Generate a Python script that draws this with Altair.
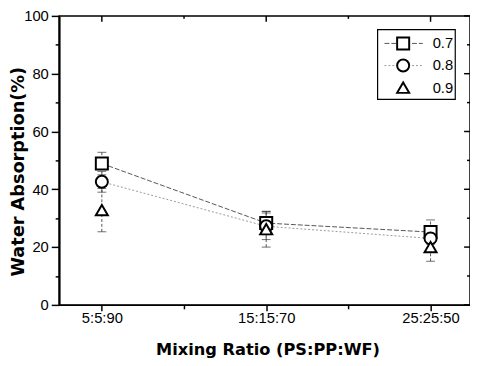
import altair as alt
import pandas as pd

categories = ["5:5:90", "15:15:70", "25:25:50"]
ratios = ["0.7", "0.8", "0.9"]
vals_07 = [48.9, 28.3, 25.2]
err_07 = [3.9, 4.0, 4.2]
vals_08 = [42.6, 27.2, 23.0]
err_08 = [3.6, 4.6, 3.5]
vals_09 = [32.8, 26.2, 20.0]
err_09 = [7.5, 6.2, 4.9]

rows = []
for r, vals, errs in zip(ratios, [vals_07, vals_08, vals_09], [err_07, err_08, err_09]):
    for i, (c, v, e) in enumerate(zip(categories, vals, errs)):
        rows.append({"cat": c, "xpos": i + 1, "ratio": r, "val": v, "lo": v - e, "hi": v + e})
df = pd.DataFrame(rows)
legend_df = pd.DataFrame({"ratio": ratios, "row": list(range(len(ratios)))})

FONT = "Liberation Sans"
TFONT = "DejaVu Sans"
cat_expr = "[" + ",".join("'" + c + "'" for c in categories) + "]"
xlabel_expr = "datum.value % 1 == 0 ? " + cat_expr + "[datum.value - 1] : ''"

W, H = 418, 294
xscale = alt.Scale(domain=[0.74, 3.24], nice=False, zero=False)
yscale = alt.Scale(domain=[0, 100], nice=False)
shape_scale = alt.Scale(domain=ratios, range=["square", "circle", "triangle-up"])
xvals = [1, 1.5, 2, 2.5, 3]
yvals = list(range(0, 101, 10))

xt = pd.DataFrame({"t": xvals, "major": [v % 1 == 0 for v in xvals]})
yt = pd.DataFrame({"t": yvals, "major": [v % 20 == 0 for v in yvals]})

base = alt.Chart(df)

axis_bottom = alt.Axis(
    orient="bottom", values=xvals, labelExpr=xlabel_expr, grid=False,
    tickSize=alt.ExprRef("datum.value % 1 == 0 ? 6 : 4"), tickColor="black", tickWidth=1.5,
    domainColor="black", domainWidth=1.5, labelFont=FONT, labelFontSize=15, labelColor="black",
    labelPadding=0, labelFlush=False, labelOverlap=False,
    title="Mixing Ratio (PS:PP:WF)", titleFont=TFONT, titleFontSize=16.5, titleFontWeight="bold",
    titleColor="black", titleBaseline="middle", titleX=212, titleY=45,
)
axis_left = alt.Axis(
    orient="left", values=yvals, labelExpr="datum.value % 20 == 0 ? datum.value : ''", grid=False,
    tickSize=alt.ExprRef("datum.value % 20 == 0 ? 8 : 4"), tickColor="black", tickWidth=1.5,
    domainColor="black", domainWidth=2, labelFont=FONT, labelFontSize=15, labelColor="black",
    labelPadding=3, labelFlush=False, labelOverlap=False,
    title="Water Absorption(%)", titleFont=TFONT, titleFontSize=18, titleFontWeight="bold",
    titleColor="black", titleBaseline="middle", titleX=-41, titleY=158, titleAngle=270,
)

# inward ticks on the top and right frame edges
top_major = alt.Chart(xt).transform_filter("datum.major").mark_rule(color="black", strokeWidth=1.5).encode(
    x=alt.X("t:Q", scale=xscale, axis=None), y=alt.value(0), y2=alt.value(6))
top_minor = alt.Chart(xt).transform_filter("!datum.major").mark_rule(color="black", strokeWidth=1.5).encode(
    x=alt.X("t:Q", scale=xscale, axis=None), y=alt.value(0), y2=alt.value(3))
right_major = alt.Chart(yt).transform_filter("datum.major").mark_rule(color="black", strokeWidth=1.5).encode(
    y=alt.Y("t:Q", scale=yscale, axis=None), x=alt.value(W - 6), x2=alt.value(W))
right_minor = alt.Chart(yt).transform_filter("!datum.major").mark_rule(color="black", strokeWidth=1.5).encode(
    y=alt.Y("t:Q", scale=yscale, axis=None), x=alt.value(W - 3), x2=alt.value(W))

line_07 = base.transform_filter("datum.ratio == '0.7'").mark_line(
    strokeWidth=1, color="#555555", strokeDash=[5, 2]).encode(
    x=alt.X("xpos:Q", scale=xscale, axis=None),
    y=alt.Y("val:Q", scale=yscale, axis=None),
)
line_08 = base.transform_filter("datum.ratio == '0.8'").mark_line(
    strokeWidth=1, color="#999999", strokeDash=[2, 2]).encode(
    x=alt.X("xpos:Q", scale=xscale, axis=None),
    y=alt.Y("val:Q", scale=yscale, axis=None),
)

err = base.mark_rule(strokeWidth=1, color="#555555", strokeDash=[3, 2]).encode(
    x=alt.X("xpos:Q", scale=xscale, axis=None),
    y=alt.Y("lo:Q", scale=yscale, axis=None),
    y2="hi:Q",
)
cap_lo = base.mark_tick(orient="horizontal", size=9, thickness=1, color="#333333").encode(
    x=alt.X("xpos:Q", scale=xscale, axis=None),
    y=alt.Y("lo:Q", scale=yscale, axis=None),
)
cap_hi = base.mark_tick(orient="horizontal", size=9, thickness=1, color="#333333").encode(
    x=alt.X("xpos:Q", scale=xscale, axis=None),
    y=alt.Y("hi:Q", scale=yscale, axis=None),
)

points = base.mark_point(size=150, fill="white", stroke="black", strokeWidth=2, opacity=1, fillOpacity=1).encode(
    x=alt.X("xpos:Q", scale=xscale, axis=axis_bottom),
    y=alt.Y("val:Q", scale=yscale, axis=axis_left),
    shape=alt.Shape("ratio:N", scale=shape_scale, legend=None),
)

# legend (box, line samples, symbols, labels) laid out in pixels inside the plot area
leg = alt.Chart(legend_df).transform_calculate(ly="28 + datum.row * 22.5")
leg_box = alt.Chart(legend_df).transform_filter("datum.row == 0").mark_rect(
    fill="white", stroke="black", strokeWidth=1.2).encode(
    x=alt.value(324), x2=alt.value(403), y=alt.value(14), y2=alt.value(85))
leg_l07 = leg.transform_filter("datum.ratio == '0.7'").mark_rule(
    strokeWidth=1, color="#555555", strokeDash=[5, 2]).encode(
    x=alt.value(331), x2=alt.value(370), y=alt.Y("ly:Q", scale=None, axis=None))
leg_l08 = leg.transform_filter("datum.ratio == '0.8'").mark_rule(
    strokeWidth=1, color="#999999", strokeDash=[2, 2]).encode(
    x=alt.value(331), x2=alt.value(370), y=alt.Y("ly:Q", scale=None, axis=None))
leg_sym = leg.mark_point(size=150, fill="white", stroke="black", strokeWidth=2, opacity=1, fillOpacity=1).encode(
    x=alt.value(350), y=alt.Y("ly:Q", scale=None, axis=None),
    shape=alt.Shape("ratio:N", scale=shape_scale, legend=None),
)
leg_txt = leg.mark_text(align="left", baseline="middle", font=FONT, fontSize=15, color="black").encode(
    x=alt.value(380), y=alt.Y("ly:Q", scale=None, axis=None), text="ratio:N")

chart = alt.layer(
    top_major, top_minor, right_major, right_minor,
    line_07, line_08, err, cap_lo, cap_hi, points,
    leg_box, leg_l07, leg_l08, leg_sym, leg_txt,
).resolve_axis(
    x="independent", y="independent"
).properties(
    width=W, height=H,
    background="white",
    autosize=alt.AutoSizeParams(type="none"),
    padding={"left": 52, "top": 5, "right": 0, "bottom": 51},
).configure_view(stroke="black", strokeWidth=1.5)

chart.save("out.html", embed_options={"renderer": "svg", "actions": False})
